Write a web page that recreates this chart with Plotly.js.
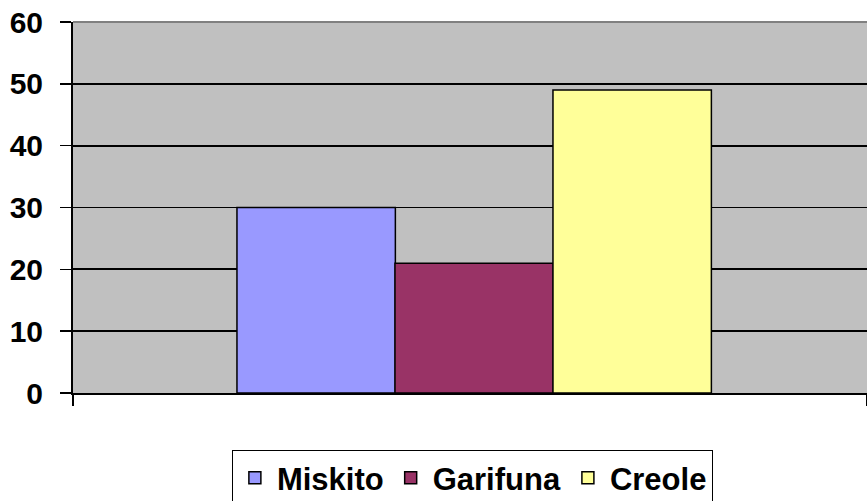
<!DOCTYPE html>
<html>
<head>
<meta charset="utf-8">
<script src="https://cdn.plot.ly/plotly-3.0.1.min.js"></script>
<style>html,body{margin:0;padding:0;background:#fff;}#chart{width:867px;height:501px;}</style>
</head>
<body>
<div id="chart"></div>
<script>
const category = ['Group'];
const seriesNames = ['Miskito', 'Garifuna', 'Creole'];
const seriesValues = [[30], [21], [49]];
const seriesColors = ['#9999FF', '#993366', '#FFFF99'];
const yTicks = [0, 10, 20, 30, 40, 50, 60];
const barOffsets = [-0.2935, -0.0945, 0.1045];

const traces = seriesNames.map((n, i) => ({
  type: 'bar',
  name: n,
  x: category,
  y: seriesValues[i],
  width: 0.1995,
  offset: barOffsets[i],
  marker: {color: seriesColors[i], line: {color: '#000', width: 1.5}},
  hoverinfo: 'name+y'
}));

const layout = {
  width: 867, height: 501,
  margin: {l: 73, r: 0, t: 22, b: 108, pad: 0, autoexpand: false},
  paper_bgcolor: '#ffffff',
  plot_bgcolor: '#C0C0C0',
  barmode: 'overlay',
  font: {family: 'Liberation Sans, Arial, sans-serif', color: '#000'},
  xaxis: {
    range: [-0.5, 0.5],
    showticklabels: false,
    showline: true, linecolor: '#000', linewidth: 2,
    ticks: 'outside', tickson: 'boundaries', ticklen: 11, tickcolor: '#000', tickwidth: 1.5,
    showgrid: false, zeroline: false, fixedrange: true
  },
  yaxis: {
    range: [0, 60],
    tickvals: yTicks,
    ticktext: yTicks.map(String),
    showline: true, linecolor: '#000', linewidth: 2,
    ticks: 'outside', ticklen: 11, tickcolor: '#000', tickwidth: 1.5,
    ticklabelstandoff: 11,
    tickfont: {size: 30, weight: 'bold', family: 'Liberation Sans, Arial, sans-serif'},
    showgrid: true, gridcolor: '#000', gridwidth: 1.8,
    zeroline: false, fixedrange: true
  },
  showlegend: true,
  legend: {
    orientation: 'h',
    x: 0.503, xanchor: 'center',
    y: -0.154, yanchor: 'top',
    bordercolor: '#000', borderwidth: 1,
    bgcolor: '#fff',
    font: {size: 31, weight: 'bold', family: 'Liberation Sans, Arial, sans-serif'},
    itemwidth: 34,
    traceorder: 'normal'
  },
  shapes: [{
    type: 'line', xref: 'paper', yref: 'paper', x0: 0, x1: 1, y0: 1, y1: 1,
    line: {color: '#808080', width: 2}, layer: 'above'
  }]
};

Plotly.newPlot('chart', traces, layout, {displayModeBar: false, staticPlot: true});
</script>
</body>
</html>
